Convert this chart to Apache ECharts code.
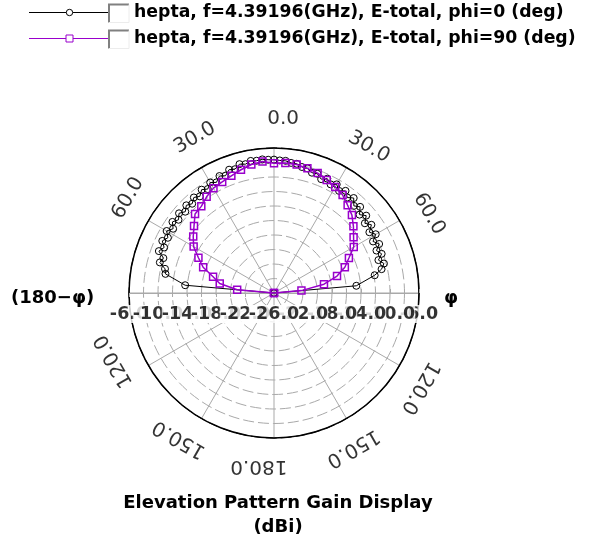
<!DOCTYPE html>
<html><head><meta charset="utf-8">
<script src="https://cdn.jsdelivr.net/npm/echarts@6/dist/echarts.min.js"></script>
<style>html,body{margin:0;padding:0;background:#fff}#c{width:611px;height:544px}</style>
</head><body><div id="c"></div><script>
// ---- data ----
const blackTheta = [-90,-85,-80,-77.5,-75,-72.5,-70,-67.5,-65,-62.5,-60,-57.5,-55,-52.5,-50,-47.5,-45,-42.5,-40,-37.5,-35,-32.5,-30,-27.5,-25,-22.5,-20,-17.5,-15,-12.5,-10,-7.5,-5,-2.5,0,2.5,5,7.5,10,12.5,15,17.5,20,22.5,25,27.5,30,32.5,35,37.5,40,42.5,45,47.5,50,52.5,55,57.5,60,62.5,65,67.5,70,72.5,75,77.5,80,85,90];
const blackGain = [-26,-13.7,-10.8,-10.6,-9.7,-10.0,-9.1,-9.6,-9.0,-9.5,-8.9,-9.5,-8.9,-9.4,-8.9,-9.4,-8.9,-9.3,-8.8,-9.2,-8.6,-9.0,-8.4,-8.8,-8.2,-8.5,-7.9,-8.1,-7.6,-7.8,-7.5,-7.6,-7.5,-7.6,-7.6,-7.7,-7.7,-7.9,-7.9,-8.2,-8.2,-8.6,-8.5,-9.0,-8.6,-9.1,-8.7,-9.3,-8.8,-9.4,-8.9,-9.7,-9.2,-10.0,-9.4,-10.2,-9.6,-10.4,-9.8,-10.6,-10.0,-10.7,-10.2,-10.9,-10.3,-10.8,-11.9,-14.6,-26];
const purpleTheta = [-90,-85,-80,-75,-70,-65,-60,-55,-50,-45,-40,-35,-30,-25,-20,-15,-10,-5,0,5,10,15,20,25,30,35,40,45,50,55,60,65,70,75,80,85,90];
const purpleGain = [-26,-20.9,-18.4,-17.3,-15.6,-14.5,-13.2,-12.4,-11.6,-10.6,-10.4,-9.8,-9.3,-9.1,-8.8,-8.4,-8.0,-7.8,-8.1,-8.0,-8.0,-8.2,-8.4,-8.8,-9.1,-9.5,-10.2,-10.8,-11.7,-12.6,-13.3,-14.6,-15.6,-17.0,-19.0,-22.2,-26];
const radialTicks = [-26,-22,-18,-14,-10,-6];
const angleTickPos = [0,30,60,120,150,180,210,240,300,330];
const angleTickText = ['0.0','30.0','60.0','120.0','150.0','180.0','150.0','120.0','60.0','30.0'];
const legendNames = ['hepta, f=4.39196(GHz), E-total, phi=0 (deg)','hepta, f=4.39196(GHz), E-total, phi=90 (deg)'];
const sideLabels = ['(180\u2212\u03c6)','\u03c6'];
const titleLines = ['Elevation Pattern Gain Display','(dBi)'];

// ---- layout ----
const CX = 274, CY = 293, R = 145;
const BLACK = '#000000', PURPLE = '#9900cc', GRID = '#a9a9a9';
const FONT = 'DejaVu Sans';
const RMIN = -26, RMAX = -6;
const norm = t => ((t % 360) + 360) % 360;

const hiddenAngle = (start) => ({startAngle:start, clockwise:true, min:0, max:360, type:'value',
  axisLine:{show:false}, axisTick:{show:false}, axisLabel:{show:false}, splitLine:{show:false}});

const gridColors = [];
for (let v = RMIN; v <= RMAX; v += 2) gridColors.push(v === RMAX ? BLACK : GRID);

// radial tick labels: outer first, inner last so inner ones lie on top
const outerTicks = radialTicks.filter(v => v !== RMIN).sort((a,b)=>b-a);
const radLabelData = [];
outerTicks.forEach(v => radLabelData.push([v, 90]));
outerTicks.forEach(v => radLabelData.push([v, 270]));
radLabelData.push([RMIN, 0]);

const angleLabelData = angleTickPos.map((p,i) => ({
  value:[1, norm(p + 3 + (p === 180 ? 2 : 0) + (p === 240 ? 4 : 0))],
  label:{formatter: angleTickText[i], rotate: p <= 180 ? -p : 360 - p}
}));

const legendY = [12.5, 38.5];
const graphics = [];
legendY.forEach((y,i) => {
  const col = i === 0 ? BLACK : PURPLE;
  graphics.push({type:'line', shape:{x1:29,y1:y,x2:108,y2:y}, style:{stroke:col, lineWidth:1}});
  if (i === 0) graphics.push({type:'circle', shape:{cx:69.5, cy:y, r:3.2}, style:{fill:'#fff', stroke:col, lineWidth:1}});
  else graphics.push({type:'rect', shape:{x:66, y:y-3.5, width:7, height:7}, style:{fill:'#fff', stroke:col, lineWidth:1}});
  graphics.push({type:'rect', shape:{x:108, y:y-9, width:21, height:19}, style:{fill:'#fff', stroke:null}});
  graphics.push({type:'polyline', shape:{points:[[109,y+10],[109,y-8],[129,y-8]]}, style:{stroke:'#808080', lineWidth:2, fill:null}});
  graphics.push({type:'polyline', shape:{points:[[129,y-8],[129,y+10],[109,y+10]]}, style:{stroke:'#ececec', lineWidth:1, fill:null}});
  graphics.push({type:'text', x:134, y:y, style:{text:legendNames[i], font:'bold 17.3px "'+FONT+'"', fill:'#000', verticalAlign:'middle'}});
});
graphics.push({type:'text', x:11, y:298, style:{text:sideLabels[0], font:'bold 18px "'+FONT+'"', fill:'#000', verticalAlign:'middle'}});
graphics.push({type:'text', x:451, y:298, style:{text:sideLabels[1], font:'bold 18px "'+FONT+'"', fill:'#000', align:'center', verticalAlign:'middle'}});
titleLines.forEach((t,i) => graphics.push({type:'text', x:278, y:503 + i*24, style:{text:t, font:'bold 18px "'+FONT+'"', fill:'#000', align:'center', verticalAlign:'middle'}}));

const chart = echarts.init(document.getElementById('c'), null, {renderer:'canvas'});
chart.setOption({
  animation:false,
  backgroundColor:'#fff',
  polar:[
    {center:[CX,CY], radius:R},
    {center:[CX,CY], radius:R},
    {center:[CX,CY], radius:R},
    {center:[CX,CY], radius:174}
  ],
  angleAxis:[
    {polarIndex:0, type:'value', startAngle:90, clockwise:true, min:0, max:360, interval:30,
     axisLine:{show:true, lineStyle:{color:BLACK, width:1.5}}, axisTick:{show:false}, axisLabel:{show:false},
     splitLine:{show:true, lineStyle:{color:GRID, width:1}}},
    Object.assign({polarIndex:1}, hiddenAngle(0)),
    Object.assign({polarIndex:2}, hiddenAngle(180)),
    Object.assign({polarIndex:3}, hiddenAngle(90))
  ],
  radiusAxis:[
    {polarIndex:0, type:'value', min:RMIN, max:RMAX, interval:2,
     axisLine:{show:false}, axisTick:{show:false}, axisLabel:{show:false},
     splitLine:{show:true, lineStyle:{color:gridColors, width:1, type:[11,4]}}},
    {polarIndex:1, type:'value', min:RMIN, max:RMAX, interval:2,
     axisLine:{show:true, lineStyle:{color:GRID, width:1}}, axisTick:{show:true, length:4, lineStyle:{color:GRID}},
     axisLabel:{show:false}, splitLine:{show:false}},
    {polarIndex:2, type:'value', min:RMIN, max:RMAX, interval:2,
     axisLine:{show:true, lineStyle:{color:GRID, width:1}}, axisTick:{show:true, length:4, lineStyle:{color:GRID}},
     axisLabel:{show:false}, splitLine:{show:false}},
    {polarIndex:3, type:'value', min:0, max:1, axisLine:{show:false}, axisTick:{show:false}, axisLabel:{show:false}, splitLine:{show:false}}
  ],
  series:[
    {type:'line', coordinateSystem:'polar', polarIndex:0, z:3,
     data: blackTheta.map((t,i)=>[blackGain[i], norm(t)]),
     symbol:'circle', symbolSize:7, showSymbol:true,
     lineStyle:{color:BLACK, width:1}, itemStyle:{color:'rgba(0,0,0,0)', borderColor:BLACK, borderWidth:1}},
    {type:'line', coordinateSystem:'polar', polarIndex:0, z:4,
     data: purpleTheta.map((t,i)=>[purpleGain[i], norm(t)]),
     symbol:'rect', symbolSize:7, showSymbol:true,
     lineStyle:{color:PURPLE, width:1.5}, itemStyle:{color:'rgba(0,0,0,0)', borderColor:PURPLE, borderWidth:1.5}},
    {type:'scatter', coordinateSystem:'polar', polarIndex:0, z:5, silent:true,
     data: radLabelData, symbolSize:1, itemStyle:{color:'rgba(0,0,0,0)'},
     label:{show:true, position:'inside', offset:[0,21], formatter: p => p.value[0].toFixed(1),
       fontFamily:FONT, fontWeight:'bold', fontSize:17.5, color:'#000', backgroundColor:'#fff', padding:0}},
    {type:'scatter', coordinateSystem:'polar', polarIndex:3, z:5, silent:true,
     data: angleLabelData, symbolSize:1, itemStyle:{color:'rgba(0,0,0,0)'},
     label:{show:true, position:'inside', fontFamily:FONT, fontSize:20, color:'#000'}}
  ],
  graphic: graphics
});
</script></body></html>
